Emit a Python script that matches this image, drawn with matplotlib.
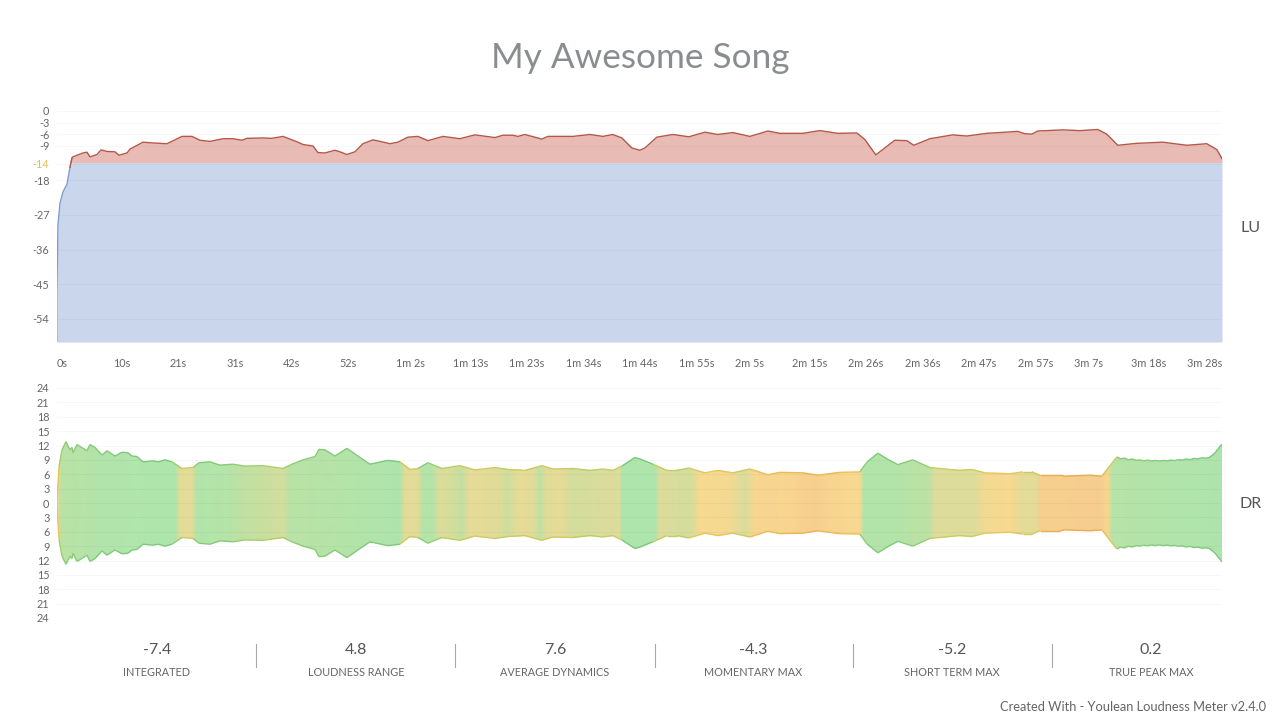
import numpy as np
import matplotlib
matplotlib.use('Agg')
from matplotlib import pyplot as plt
from matplotlib.collections import LineCollection
from matplotlib.colors import LinearSegmentedColormap
from matplotlib.patches import Polygon

plt.rcParams['font.family'] = ['Lato', 'DejaVu Sans']

title = 'My Awesome Song'
duration = 214.2

# loudness curve, seconds / LU
lu_t = [0, .18, .55, 1.1, 1.84, 2.39, 2.76, 2.94, 4.78, 5.51, 6.07, 7.35, 8.09, 9.19, 10.66, 11.4, 12.87, 13.42,
        15.81, 17.65, 20.22, 22.98, 24.82, 26.29, 28.13, 30.51, 32.35, 34.01, 34.93, 37.87, 39.52, 41.54, 44.12,
        45.22, 47.06, 47.98, 49.26, 51.1, 52.02, 53.31, 54.78, 56.25, 58.09, 59.74, 61.21, 62.68, 64.52, 66.36,
        68.2, 70.96, 74.08, 76.84, 80.51, 81.99, 83.82, 84.74, 86.03, 89.15, 90.26, 94.85, 97.98, 100.37, 102.2,
        103.86, 105.7, 107.17, 108.09, 110.29, 113.24, 116.18, 119.12, 121.51, 124.26, 127.39, 130.7, 132.9,
        137.13, 140.26, 143.57, 147.06, 148.53, 150.55, 152.2, 154.04, 156.25, 157.54, 160.48, 164.71, 167.28,
        170.96, 176.65, 177.94, 179.23, 180.33, 184.93, 188.05, 191.36, 193.01, 195.04, 198.53, 203.31, 207.72,
        211.4, 213.24, 214.2]
lu_values = [-46, -29.5, -24, -21, -19, -14.6, -12.2, -11.9, -10.9, -10.7, -11.9, -11.3, -10.1, -10.5, -10.6, -11.5,
             -10.9, -9.9, -8.1, -8.3, -8.5, -6.6, -6.6, -7.6, -7.9, -7.2, -7.2, -7.6, -7.1, -7.0, -7.1, -6.6, -8.0,
             -8.7, -9.1, -10.8, -10.9, -10.2, -10.6, -11.3, -10.6, -8.5, -7.5, -8.0, -8.5, -8.1, -6.8, -6.6,
             -7.7, -6.6, -7.2, -6.2, -6.9, -6.3, -6.3, -6.6, -6.1, -7.3, -6.6, -6.6, -6.1, -6.6, -6.1,
             -7.0, -9.6, -10.2, -9.6, -6.8, -6.1, -6.7, -5.5, -6.1, -5.6, -6.6, -5.2, -5.8,
             -5.8, -5.1, -5.8, -5.7, -7.4, -11.4, -9.6, -7.6, -7.7, -8.9, -7.2, -6.2, -6.5,
             -5.8, -5.3, -5.9, -6.0, -5.2, -4.9, -5.1, -4.8, -6.0, -8.9, -8.4, -8.1, -8.9,
             -8.5, -10, -12.4]

# dynamic range envelope, seconds / dB
dr_t = [0, .37, .92, 1.65, 2.39, 2.76, 2.94, 3.68, 5.51, 6.07, 6.99, 8.27, 9.19, 10.66, 11.95, 13.05, 13.79, 14.71,
        15.81, 17.65, 18.57, 19.85, 21.14, 22.98, 25, 26.1, 28.13, 29.96, 32.35, 34.56, 37.87, 41.54, 43.2, 45.22,
        47.43, 48.16, 49.26, 51.1, 53.31, 55.33, 57.54, 60.84, 63.05, 64.89, 66.36, 68.2, 70.77, 74.08, 76.84,
        80.51, 82.9, 86.03, 89.15, 91.18, 94.85, 97.98, 100.37, 102.2, 103.86, 106.25, 107.17, 109.56, 112.13,
        113.97, 116.18, 119.12, 121.51, 124.26, 127.39, 130.7, 132.9, 137.13, 139.89, 143.93, 147.61, 148.9,
        150.92, 152.76, 154.6, 157.35, 160.48, 165.99, 168.2, 170.59, 175.18, 177.57, 179.23, 180.7, 184.38,
        185.29, 189.89, 192.1, 194.85, 195.56, 196.27, 196.98, 197.69, 198.4, 199.11, 199.82, 200.53, 201.24,
        201.95, 202.66, 203.37, 204.08, 204.79, 205.5, 206.21, 206.92, 207.63, 208.34, 209.05, 209.76, 210.47,
        211.18, 211.89, 212.87, 214.2]
dr_values = [.5, 7.6, 11.1, 12.8, 11.1, 11.6, 10.5, 12.2, 10.9, 12.2, 11.6, 10, 10.9, 9.8, 10.6, 10.5, 9.8, 9.7,
             8.6, 8.8, 8.6, 9.0, 8.6, 7.2, 7.4, 8.4, 8.6, 7.9, 8.1, 7.7, 7.8, 7.2, 8.1, 9.0,
             9.7, 11.2, 11.1, 9.8, 11.4, 9.8, 8.1, 8.9, 8.6, 7.0, 7.2, 8.4, 7.2, 7.8, 6.9,
             7.4, 7.0, 6.8, 7.8, 7.1, 7.2, 6.8, 7.1, 6.8, 7.7, 9.5, 9.2, 8.1, 6.8,
             6.8, 7.3, 6.3, 6.8, 6.3, 7.1, 5.9, 6.4, 6.3, 5.8, 6.4, 6.5, 8.5,
             10.4, 9.1, 8.0, 9.0, 7.4, 6.8, 7.0, 6.3, 6.1, 6.5, 6.5, 5.8, 5.8,
             5.6, 5.8, 5.6, 9.6, 9.2, 9.4, 9.0, 9.2, 8.9, 9.0, 8.8, 8.95, 8.75,
             8.9, 8.75, 8.9, 8.8, 8.95, 8.85, 9.05, 8.95, 9.2, 9.05, 9.3, 9.2, 9.45,
             9.35, 9.5, 10.4, 12.3]

# colour of the vertical bands, 0 orange .. 1 green
band_t = [0, .37, .92, 7.9, 21.69, 22.61, 24.82, 25.74, 31.8, 34.56, 37.68, 41.54, 42.83, 63.05, 63.97, 66.36, 67.28,
          68.93, 70.4, 73.16, 74.45, 75.92, 81.43, 82.72, 85.11, 87.87, 88.79, 89.71, 92.46, 94.67, 103.49, 103.86,
          109.93, 110.85, 116.36, 118.2, 123.71, 126.47, 128.31, 131.07, 132.9, 139.34, 142.1, 147.61, 148.34,
          154.04, 160.48, 161.4, 165.99, 168.75, 170.59, 175.18, 177.57, 180.15, 180.7, 191.73, 193.2, 194.12, 214.2]
band_values = [0, .6, .85, .95, 1, .45, .45, .95, .9, .75, .7, .6, .85, 1, .45, .45, .9,
               .95, .5, .6, .75, .4, .5, .65, .4, .5, .85, .5, .4, .6, .5, 1,
               1, .5, .6, .25, .3, .55, .2, .15, .2, .05, .15, .25, .95,
               .95, .8, .5, .5, .5, .3, .25, .45, .45, .05, 0, .2, .9, 1]

lu_ticks = [0, -3, -6, -9, -18, -27, -36, -45, -54]
target_tick = -13.7
target_fill = -13.4
dr_ticks = [24, 21, 18, 15, 12, 9, 6, 3, 0, -3, -6, -9, -12, -15, -18, -21, -24]
time_labels = ['0s', '10s', '21s', '31s', '42s', '52s', '1m 2s', '1m 13s', '1m 23s', '1m 34s', '1m 44s', '1m 55s',
               '2m 5s', '2m 15s', '2m 26s', '2m 36s', '2m 47s', '2m 57s', '3m 7s', '3m 18s', '3m 28s']
stat_values = ['-7.4', '4.8', '7.6', '-4.3', '-5.2', '0.2']
stat_names = ['INTEGRATED', 'LOUDNESS RANGE', 'AVERAGE DYNAMICS', 'MOMENTARY MAX', 'SHORT TERM MAX', 'TRUE PEAK MAX']

W, H = 1280, 720
TXT = '#666666'


def px_axes(x0, y0, x1, y1):
    return fig.add_axes([x0 / W, 1 - y1 / H, (x1 - x0) / W, (y1 - y0) / H])


def style(ax):
    for s in ax.spines.values():
        s.set_visible(False)
    ax.set_xlim(0, duration)
    ax.tick_params(length=0, labelsize=7.8, labelcolor=TXT, pad=5.5)


fig = plt.figure(figsize=(W / 100, H / 100), dpi=100)
fig.text(640 / W, 1 - 58 / H, title, ha='center', va='center', fontsize=25.3, color='#8a8d8f')

t = np.array(lu_t)
lu = np.array(lu_values)

ax1 = px_axes(57, 111, 1222, 342)
style(ax1)
ax1.set_ylim(-60, 0)
ax1.fill_between(t, -60, np.minimum(lu, target_fill), color='#c9d6ec', lw=0, zorder=1)
ax1.fill_between(t, target_fill, lu, where=lu >= target_fill, interpolate=True, color='#e8bcb5', lw=0, zorder=1)
ax1.plot(t, np.ma.masked_where(lu > -12, lu), color='#7f9bd0', lw=1.0, zorder=3)
ax1.plot([0, 0], [-60, lu[0]], color='#9db3da', lw=1.2, zorder=3)
ax1.plot(t, np.ma.masked_where(lu < -14.6, lu), color='#b5574a', lw=1.0, zorder=3)
ax1.set_yticks(lu_ticks + [target_tick], [str(v) for v in lu_ticks] + ['-14'])
ax1.get_yticklabels()[-1].set_color('#e6bd55')
ax1.set_xticks(np.arange(len(time_labels)) * 10.39, time_labels, ha='left')
ax1.tick_params(axis='x', pad=11.5)
ax1.grid(axis='y', color='#000000', alpha=0.03, lw=0.8, zorder=2)
ax1.set_axisbelow(False)
for line in ax1.get_xgridlines():
    line.set_visible(False)

dt = np.array(dr_t)
dr = np.array(dr_values)
bt = np.array(band_t)
bv = np.array(band_values)

fill_cmap = LinearSegmentedColormap.from_list('fill', ['#f6cd8e', '#f8d990', '#dedc9a', '#c2e0a2', '#aee5ac'])
edge_cmap = LinearSegmentedColormap.from_list('edge', ['#e8ab4e', '#eec45a', '#c8cc60', '#9ccf70', '#7ac87c'])

ax2 = px_axes(57, 388, 1222, 618)
style(ax2)
ax2.set_ylim(-24, 24)
mesh = ax2.pcolormesh(bt, [-24, 24], np.vstack([bv, bv]), cmap=fill_cmap, vmin=0, vmax=1, shading='gouraud', zorder=1)
outline = Polygon(np.column_stack([np.r_[dt, dt[::-1]], np.r_[dr, -dr[::-1]]]), transform=ax2.transData)
mesh.set_clip_path(outline)

mid_t = (dt[:-1] + dt[1:]) / 2
seg_v = np.interp(mid_t, bt, bv)
for sign in (1, -1):
    pts = np.column_stack([dt, sign * dr])
    segs = np.stack([pts[:-1], pts[1:]], axis=1)
    lc = LineCollection(segs, cmap=edge_cmap, array=seg_v, linewidths=1.0, zorder=3)
    lc.set_clim(0, 1)
    ax2.add_collection(lc)

ax2.set_yticks(dr_ticks, [str(abs(v)) for v in dr_ticks])
ax2.set_xticks([])
ax2.grid(axis='y', color='#000000', alpha=0.03, lw=0.8, zorder=2)
ax2.set_axisbelow(False)

fig.text(1251 / W, 1 - 228 / H, 'LU', ha='center', va='center', fontsize=11.5, color='#555555')
fig.text(1251 / W, 1 - 504 / H, 'DR', ha='center', va='center', fontsize=11.5, color='#555555')

# stats row
centers = [157, 356, 555, 753, 952, 1151]
for cx, val, name in zip(centers, stat_values, stat_names):
    fig.text(cx / W, 1 - 650 / H, val, ha='center', va='center', fontsize=11.5, color='#555555')
    fig.text(cx / W, 1 - 672 / H, name, ha='center', va='center', fontsize=7.8, color=TXT)
for cx in [256, 455, 655, 853, 1052]:
    fig.add_artist(plt.Line2D([cx / W, cx / W], [1 - 644 / H, 1 - 667 / H], color='#a8a8a8', lw=0.8))

fig.text(1266 / W, 1 - 707 / H, 'Created With - Youlean Loudness Meter v2.4.0', ha='right', va='center',
         fontsize=9.3, color=TXT)

fig.savefig('out.png', dpi=100)
